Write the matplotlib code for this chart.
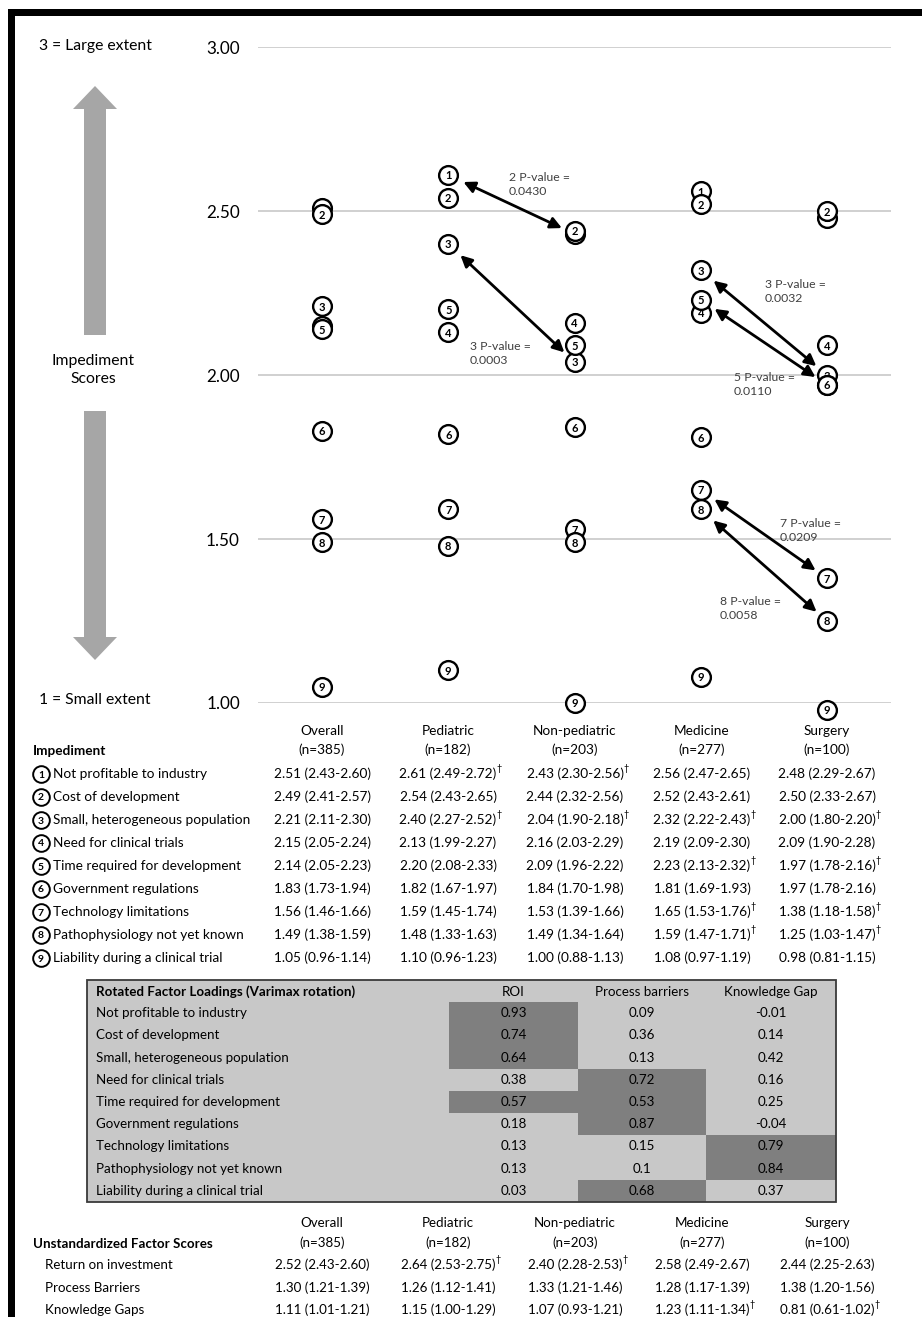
import matplotlib
matplotlib.use('Agg')
import matplotlib.pyplot as plt
from matplotlib.patches import Polygon, Rectangle

plt.rcParams['font.family'] = ['Lato', 'DejaVu Sans']

# ---------------- data ----------------
groups = ['Overall', 'Pediatric', 'Non-pediatric', 'Medicine', 'Surgery']
group_n = [385, 182, 203, 277, 100]
impediments = ['Not profitable to industry', 'Cost of development',
               'Small, heterogeneous population', 'Need for clinical trials',
               'Time required for development', 'Government regulations',
               'Technology limitations', 'Pathophysiology not yet known',
               'Liability during a clinical trial']

overall_mean = [2.51, 2.49, 2.21, 2.15, 2.14, 1.83, 1.56, 1.49, 1.05]
overall_lo = [2.43, 2.41, 2.11, 2.05, 2.05, 1.73, 1.46, 1.38, 0.96]
overall_hi = [2.60, 2.57, 2.30, 2.24, 2.23, 1.94, 1.66, 1.59, 1.14]
overall_sig = [0, 0, 0, 0, 0, 0, 0, 0, 0]

pediatric_mean = [2.61, 2.54, 2.40, 2.13, 2.20, 1.82, 1.59, 1.48, 1.10]
pediatric_lo = [2.49, 2.43, 2.27, 1.99, 2.08, 1.67, 1.45, 1.33, 0.96]
pediatric_hi = [2.72, 2.65, 2.52, 2.27, 2.33, 1.97, 1.74, 1.63, 1.23]
pediatric_sig = [1, 0, 1, 0, 0, 0, 0, 0, 0]

nonped_mean = [2.43, 2.44, 2.04, 2.16, 2.09, 1.84, 1.53, 1.49, 1.00]
nonped_lo = [2.30, 2.32, 1.90, 2.03, 1.96, 1.70, 1.39, 1.34, 0.88]
nonped_hi = [2.56, 2.56, 2.18, 2.29, 2.22, 1.98, 1.66, 1.64, 1.13]
nonped_sig = [1, 0, 1, 0, 0, 0, 0, 0, 0]

medicine_mean = [2.56, 2.52, 2.32, 2.19, 2.23, 1.81, 1.65, 1.59, 1.08]
medicine_lo = [2.47, 2.43, 2.22, 2.09, 2.13, 1.69, 1.53, 1.47, 0.97]
medicine_hi = [2.65, 2.61, 2.43, 2.30, 2.32, 1.93, 1.76, 1.71, 1.19]
medicine_sig = [0, 0, 1, 0, 1, 0, 1, 1, 0]

surgery_mean = [2.48, 2.50, 2.00, 2.09, 1.97, 1.97, 1.38, 1.25, 0.98]
surgery_lo = [2.29, 2.33, 1.80, 1.90, 1.78, 1.78, 1.18, 1.03, 0.81]
surgery_hi = [2.67, 2.67, 2.20, 2.28, 2.16, 2.16, 1.58, 1.47, 1.15]
surgery_sig = [0, 0, 1, 0, 1, 0, 1, 1, 0]

# significant comparisons (item index, from group, to group, label number, p-value)
cmp_item = [0, 2, 2, 4, 6, 7]
cmp_from = [1, 1, 3, 3, 3, 3]
cmp_to = [2, 2, 4, 4, 4, 4]
cmp_num = [2, 3, 3, 5, 7, 8]
cmp_p = ['0.0430', '0.0003', '0.0032', '0.0110', '0.0209', '0.0058']

# rotated factor loadings
factor_names = ['ROI', 'Process barriers', 'Knowledge Gap']
load_roi = [0.93, 0.74, 0.64, 0.38, 0.57, 0.18, 0.13, 0.13, 0.03]
load_process = [0.09, 0.36, 0.13, 0.72, 0.53, 0.87, 0.15, 0.1, 0.68]
load_knowledge = [-0.01, 0.14, 0.42, 0.16, 0.25, -0.04, 0.79, 0.84, 0.37]
hl_roi = [1, 1, 1, 0, 1, 0, 0, 0, 0]
hl_process = [0, 0, 0, 1, 1, 1, 0, 0, 1]
hl_knowledge = [0, 0, 0, 0, 0, 0, 1, 1, 0]

# unstandardized factor scores (per group)
score_names = ['Return on investment', 'Process Barriers', 'Knowledge Gaps']
roi_mean = [2.52, 2.64, 2.40, 2.58, 2.44]
roi_lo = [2.43, 2.53, 2.28, 2.49, 2.25]
roi_hi = [2.60, 2.75, 2.53, 2.67, 2.63]
roi_sig = [0, 1, 1, 0, 0]
proc_mean = [1.30, 1.26, 1.33, 1.28, 1.38]
proc_lo = [1.21, 1.12, 1.21, 1.17, 1.20]
proc_hi = [1.39, 1.41, 1.46, 1.39, 1.56]
proc_sig = [0, 0, 0, 0, 0]
know_mean = [1.11, 1.15, 1.07, 1.23, 0.81]
know_lo = [1.01, 1.00, 0.93, 1.11, 0.61]
know_hi = [1.21, 1.29, 1.21, 1.34, 1.02]
know_sig = [0, 0, 0, 1, 1]

means = [overall_mean, pediatric_mean, nonped_mean, medicine_mean, surgery_mean]
los = [overall_lo, pediatric_lo, nonped_lo, medicine_lo, surgery_lo]
his = [overall_hi, pediatric_hi, nonped_hi, medicine_hi, surgery_hi]
sigs = [overall_sig, pediatric_sig, nonped_sig, medicine_sig, surgery_sig]

# ---------------- layout ----------------
W, H = 922, 1317
fig = plt.figure(figsize=(W / 100, H / 100), dpi=100)
bg = fig.add_axes([0, 0, 1, 1])
bg.set_xlim(0, W)
bg.set_ylim(H, 0)
bg.axis('off')

ax = fig.add_axes([258 / W, 1 - 703 / H, (891 - 258) / W, (703 - 47) / H])
ax.patch.set_alpha(0)
ax.set_xlim(-0.507, 4.507)
ax.set_ylim(1, 3)
ax.set_yticks([1.0, 1.5, 2.0, 2.5, 3.0])
ax.set_yticklabels(['%.2f' % v for v in [1.0, 1.5, 2.0, 2.5, 3.0]])
ax.set_xticks([])
ax.yaxis.grid(True, color='#c4c4c4', lw=1.1)
ax.set_axisbelow(True)
ax.tick_params(axis='y', length=0, pad=13, labelsize=12.3)
for s in ax.spines.values():
    s.set_visible(False)

# markers
for gi in range(len(groups)):
    for j, m in enumerate(means[gi]):
        ax.plot(gi, m, 'o', ms=13.5, mfc='white', mec='black', mew=1.7,
                clip_on=False, zorder=5 + 2 * j)
        ax.text(gi, m, str(j + 1), ha='center', va='center_baseline',
                fontsize=8, fontweight='bold', zorder=6 + 2 * j, clip_on=False)

# comparison arrows
pv_pos = [(1.481, 2.619), (1.172, 2.104), (3.509, 2.293),
          (3.263, 2.009), (3.628, 1.564), (3.152, 1.326)]
for k in range(len(cmp_item)):
    it = cmp_item[k]
    ga, gb = cmp_from[k], cmp_to[k]
    ax.annotate('', xy=(gb, means[gb][it]), xytext=(ga, means[ga][it]),
                arrowprops=dict(arrowstyle='<|-|>', color='black', lw=2.0,
                                shrinkA=12, shrinkB=10, mutation_scale=17),
                zorder=30)
    ax.text(pv_pos[k][0], pv_pos[k][1], '%d P-value =\n%s' % (cmp_num[k], cmp_p[k]),
            fontsize=8.8, color='#404040', ha='left', va='top', linespacing=1.3,
            zorder=31)

# border
bg.add_patch(Rectangle((8, 9), W - 8, 7, color='black', lw=0))
bg.add_patch(Rectangle((8, 9), 7, H - 9, color='black', lw=0))

# left side decorations
gray = '#a6a6a6'
bg.add_patch(Polygon([(73, 109), (95, 86), (117, 109), (106, 109), (106, 335),
                      (84, 335), (84, 109)], closed=True, fc=gray, ec='none'))
bg.add_patch(Polygon([(73, 637), (95, 660), (117, 637), (106, 637), (106, 411),
                      (84, 411), (84, 637)], closed=True, fc=gray, ec='none'))
bg.text(95, 46, '3 = Large extent', ha='center', va='center', fontsize=11.3)
bg.text(93, 370, 'Impediment\nScores', ha='center', va='center', fontsize=11.3,
        linespacing=1.35)
bg.text(95, 700, '1 = Small extent', ha='center', va='center', fontsize=11.3)

colx = [322, 448, 575, 702, 827]


def value_text(x, y, m, lo, hi, sig, fs):
    t = bg.text(x, y, '%.2f (%.2f-%.2f)' % (m, lo, hi), ha='center',
                va='center', fontsize=fs)
    if sig:
        bg.annotate('\u2020', xy=(1.0, 0.95), xycoords=t, ha='left', va='center',
                    fontsize=6.5)


# ---------------- table 1 ----------------
tfs = 9.8
for gi, g in enumerate(groups):
    bg.text(colx[gi], 731, g, ha='center', va='center', fontsize=tfs)
    bg.text(colx[gi], 750, '(n=%d)' % group_n[gi], ha='center', va='center', fontsize=tfs)
bg.text(33, 751, 'Impediment', ha='left', va='center', fontsize=tfs, fontweight='bold')
for j, name in enumerate(impediments):
    y = 774 + 23 * j
    bg.plot(41, y, 'o', ms=12, mfc='white', mec='black', mew=1.4)
    bg.text(41, y, str(j + 1), ha='center', va='center_baseline', fontsize=7.5,
            fontweight='bold')
    bg.text(53, y, name, ha='left', va='center', fontsize=tfs)
    for gi in range(len(groups)):
        value_text(colx[gi], y, means[gi][j], los[gi][j], his[gi][j], sigs[gi][j], tfs)

# ---------------- table 2 ----------------
bx0, bx1, by0, by1 = 87, 836, 980, 1202
cols = [87, 449, 578, 706, 836]
hdr_h = 22
row_h = (by1 - by0 - hdr_h) / 9.0
bg.add_patch(Rectangle((bx0, by0), bx1 - bx0, by1 - by0, fc='#c8c8c8', ec='none'))
loads = [load_roi, load_process, load_knowledge]
hls = [hl_roi, hl_process, hl_knowledge]
for c in range(3):
    for j in range(9):
        if hls[c][j]:
            bg.add_patch(Rectangle((cols[c + 1], by0 + hdr_h + row_h * j),
                                   cols[c + 2] - cols[c + 1], row_h,
                                   fc='#7f7f7f', ec='none'))
bg.add_patch(Rectangle((bx0, by0), bx1 - bx0, by1 - by0, fc='none', ec='#3a3a3a', lw=1.3))
t2fs = 9.6
bg.text(96, by0 + hdr_h / 2 + 1, 'Rotated Factor Loadings (Varimax rotation)',
        ha='left', va='center', fontsize=t2fs, fontweight='bold')
for c, fn in enumerate(factor_names):
    xc = (cols[c + 1] + cols[c + 2]) / 2
    bg.text(xc, by0 + hdr_h / 2 + 1, fn, ha='center', va='center', fontsize=t2fs)
for j, name in enumerate(impediments):
    y = by0 + hdr_h + row_h * (j + 0.5)
    bg.text(96, y, name, ha='left', va='center', fontsize=t2fs)
    for c in range(3):
        xc = (cols[c + 1] + cols[c + 2]) / 2
        bg.text(xc, y, str(loads[c][j]), ha='center', va='center', fontsize=t2fs)

# ---------------- table 3 ----------------
t3fs = 9.6
for gi, g in enumerate(groups):
    bg.text(colx[gi], 1223, g, ha='center', va='center', fontsize=t3fs)
    bg.text(colx[gi], 1243, '(n=%d)' % group_n[gi], ha='center', va='center', fontsize=t3fs)
bg.text(33, 1244, 'Unstandardized Factor Scores', ha='left', va='center',
        fontsize=t3fs, fontweight='bold')
score_means = [roi_mean, proc_mean, know_mean]
score_los = [roi_lo, proc_lo, know_lo]
score_his = [roi_hi, proc_hi, know_hi]
score_sigs = [roi_sig, proc_sig, know_sig]
for r, name in enumerate(score_names):
    y = 1265 + 22.5 * r
    bg.text(45, y, name, ha='left', va='center', fontsize=t3fs)
    for gi in range(len(groups)):
        value_text(colx[gi], y, score_means[r][gi], score_los[r][gi],
                   score_his[r][gi], score_sigs[r][gi], t3fs)

fig.savefig('out.png', dpi=100)
